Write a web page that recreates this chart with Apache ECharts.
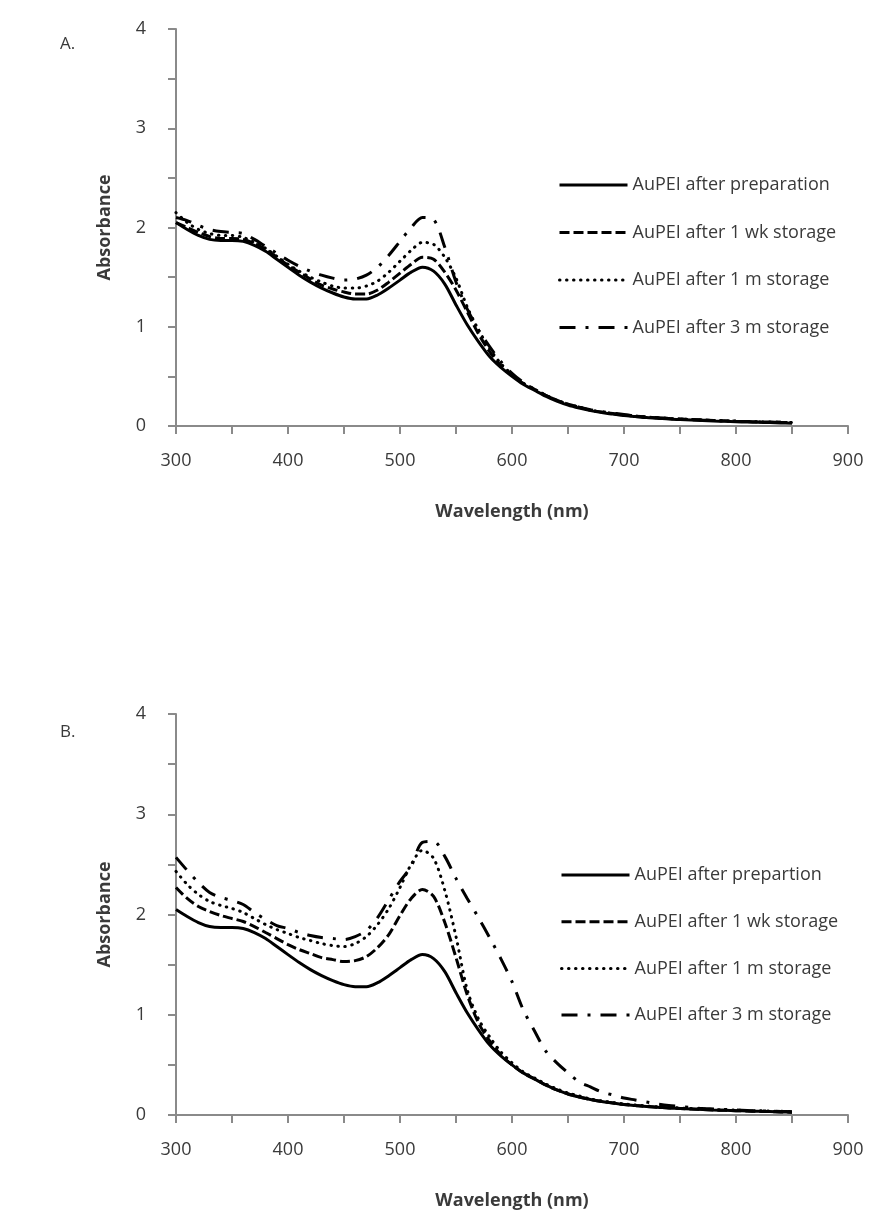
<!DOCTYPE html>
<html>
<head>
<meta charset="utf-8">
<title>AuPEI absorbance</title>
<script src="https://cdn.jsdelivr.net/npm/echarts@6/dist/echarts.min.js"></script>
<style>
  html, body { margin: 0; padding: 0; background: #fff; }
  #main { width: 871px; height: 1215px; }
</style>
</head>
<body>
<div id="main"></div>
<script>
// wavelength grid (nm)
var wavelength = [300, 310, 320, 330, 340, 350, 360, 370, 380, 390,
	400, 410, 420, 430, 440, 450, 460, 470, 480, 490,
	500, 510, 520, 530, 540, 550, 560, 570, 580, 590,
	600, 610, 620, 630, 640, 650, 660, 670, 680, 690,
	700, 710, 720, 730, 740, 750, 760, 770, 780, 790,
	800, 810, 820, 830, 840, 850];

// after preparation (same spectrum in A and B)
var prepared = [2.05, 1.98, 1.92, 1.88, 1.87, 1.87, 1.86, 1.82, 1.76, 1.68,
	1.60, 1.52, 1.45, 1.39, 1.34, 1.30, 1.28, 1.28, 1.32, 1.39,
	1.47, 1.55, 1.60, 1.56, 1.43, 1.22, 1.02, 0.85, 0.70, 0.59,
	0.50, 0.42, 0.36, 0.30, 0.25, 0.21, 0.18, 0.155, 0.135, 0.12,
	0.105, 0.095, 0.085, 0.078, 0.07, 0.065, 0.06, 0.055, 0.05, 0.047,
	0.043, 0.04, 0.037, 0.034, 0.031, 0.028];

// A.
var wk1A = [2.05, 2.00, 1.95, 1.91, 1.89, 1.89, 1.88, 1.84, 1.78, 1.70,
	1.62, 1.55, 1.48, 1.42, 1.38, 1.35, 1.33, 1.33, 1.37, 1.45,
	1.54, 1.63, 1.70, 1.68, 1.55, 1.37, 1.15, 0.93, 0.75, 0.61,
	0.51, 0.43, 0.37, 0.31, 0.26, 0.22, 0.19, 0.16, 0.14, 0.125,
	0.11, 0.10, 0.09, 0.082, 0.075, 0.07, 0.065, 0.06, 0.055, 0.052,
	0.048, 0.045, 0.042, 0.04, 0.037, 0.035];
var m1A = [2.15, 2.05, 1.98, 1.94, 1.92, 1.92, 1.90, 1.85, 1.79, 1.71,
	1.63, 1.56, 1.50, 1.45, 1.41, 1.39, 1.39, 1.41, 1.46, 1.55,
	1.66, 1.77, 1.85, 1.83, 1.70, 1.49, 1.20, 0.97, 0.78, 0.63,
	0.52, 0.43, 0.37, 0.31, 0.26, 0.22, 0.19, 0.16, 0.14, 0.125,
	0.11, 0.10, 0.09, 0.082, 0.075, 0.07, 0.065, 0.06, 0.055, 0.052,
	0.048, 0.045, 0.042, 0.04, 0.037, 0.035];
var m3A = [2.10, 2.07, 2.02, 1.98, 1.96, 1.95, 1.94, 1.88, 1.81, 1.74,
	1.67, 1.61, 1.56, 1.52, 1.49, 1.47, 1.48, 1.52, 1.60, 1.72,
	1.86, 2.00, 2.10, 2.08, 1.80, 1.45, 1.18, 0.97, 0.80, 0.65,
	0.53, 0.44, 0.37, 0.31, 0.26, 0.22, 0.19, 0.165, 0.145, 0.13,
	0.115, 0.10, 0.09, 0.083, 0.076, 0.07, 0.065, 0.06, 0.056, 0.052,
	0.048, 0.045, 0.042, 0.04, 0.037, 0.035];

// B.
var wk1B = [2.27, 2.16, 2.08, 2.03, 1.99, 1.96, 1.93, 1.88, 1.82, 1.76,
	1.70, 1.65, 1.61, 1.57, 1.55, 1.53, 1.54, 1.58, 1.67, 1.80,
	1.99, 2.16, 2.25, 2.18, 1.92, 1.57, 1.20, 0.92, 0.74, 0.60,
	0.50, 0.42, 0.36, 0.30, 0.25, 0.21, 0.18, 0.155, 0.135, 0.12,
	0.105, 0.095, 0.085, 0.078, 0.07, 0.065, 0.06, 0.055, 0.05, 0.047,
	0.043, 0.04, 0.037, 0.034, 0.031, 0.028];
var m1B = [2.43, 2.30, 2.20, 2.13, 2.09, 2.06, 2.02, 1.96, 1.90, 1.85,
	1.81, 1.77, 1.74, 1.71, 1.69, 1.68, 1.71, 1.78, 1.90, 2.06,
	2.27, 2.50, 2.64, 2.56, 2.24, 1.78, 1.25, 0.96, 0.78, 0.63,
	0.52, 0.43, 0.37, 0.31, 0.26, 0.22, 0.19, 0.16, 0.14, 0.125,
	0.11, 0.10, 0.09, 0.082, 0.075, 0.07, 0.065, 0.06, 0.055, 0.052,
	0.048, 0.045, 0.042, 0.04, 0.037, 0.035];
var m3B = [2.57, 2.44, 2.32, 2.22, 2.17, 2.14, 2.10, 2.02, 1.95, 1.89,
	1.86, 1.82, 1.79, 1.77, 1.76, 1.75, 1.78, 1.84, 1.97, 2.15,
	2.33, 2.48, 2.72, 2.73, 2.58, 2.36, 2.16, 1.97, 1.77, 1.56,
	1.33, 1.05, 0.84, 0.64, 0.52, 0.42, 0.33, 0.28, 0.23, 0.20,
	0.17, 0.15, 0.13, 0.11, 0.095, 0.085, 0.075, 0.065, 0.06, 0.055,
	0.05, 0.045, 0.042, 0.038, 0.035, 0.032];

var namesA = ['AuPEI after preparation', 'AuPEI after 1 wk storage', 'AuPEI after 1 m storage', 'AuPEI after 3 m storage'];
var namesB = ['AuPEI after prepartion', 'AuPEI after 1 wk storage', 'AuPEI after 1 m storage', 'AuPEI after 3 m storage'];
var yTicks = [0, 1, 2, 3, 4];
var xTicks = [300, 400, 500, 600, 700, 800, 900];

var font = '"Open Sans", "Noto Sans", sans-serif';
var axisGray = '#8a8a8a';
var textColor = '#3a3a3a';

// dash patterns: solid, dashed, dotted, dash-dot
var dashes = ['solid', [10, 4], [0.5, 6.5], [16, 10, 3, 10]];
var caps = ['butt', 'butt', 'round', 'butt'];

function pairs(values) {
	var out = [];
	for (var i = 0; i < wavelength.length; i++) {
		out.push([wavelength[i], values[i]]);
	}
	return out;
}

function line(name, values, k, idx) {
	return {
		name: name,
		type: 'line',
		xAxisIndex: idx,
		yAxisIndex: idx,
		data: pairs(values),
		symbol: 'none',
		showSymbol: false,
		smooth: 0.3,
		silent: true,
		z: 10 - k,
		itemStyle: { color: '#000' },
		lineStyle: { color: '#000', width: 3, type: dashes[k], cap: caps[k] }
	};
}

function xAxis(idx) {
	return {
		type: 'value', gridIndex: idx, min: 300, max: 900, interval: 50,
		name: 'Wavelength (nm)', nameLocation: 'middle', nameGap: 77,
		nameTextStyle: { fontFamily: font, fontWeight: 'bold', fontSize: 18, color: textColor },
		axisLine: { show: true, lineStyle: { color: axisGray, width: 2 } },
		axisTick: { show: true, length: 8, lineStyle: { color: axisGray, width: 2 } },
		axisLabel: {
			margin: 26, fontFamily: font, fontSize: 18, color: textColor,
			formatter: function(v) { return xTicks.indexOf(v) >= 0 ? String(v) : ''; }
		},
		splitLine: { show: false }
	};
}

function yAxis(idx) {
	return {
		type: 'value', gridIndex: idx, min: 0, max: 4, interval: 0.5,
		name: 'Absorbance', nameLocation: 'middle', nameGap: 62, nameRotate: 90,
		nameTextStyle: { fontFamily: font, fontWeight: 'bold', fontSize: 18, color: textColor },
		axisLine: { show: true, lineStyle: { color: axisGray, width: 2 } },
		axisTick: { show: true, length: 8, lineStyle: { color: axisGray, width: 2 } },
		axisLabel: {
			margin: 30, fontFamily: font, fontSize: 18, color: textColor,
			formatter: function(v) { return yTicks.indexOf(v) >= 0 ? String(v) : ''; }
		},
		splitLine: { show: false }
	};
}

function legend(names, left, top, gap) {
	return {
		data: names, orient: 'vertical', left: left, top: top,
		itemWidth: 68, itemHeight: 14, itemGap: gap, selectedMode: false,
		itemStyle: { opacity: 0 },
		lineStyle: { width: 3, color: '#000' },
		textStyle: { fontFamily: font, fontSize: 18, color: textColor }
	};
}

var chart = echarts.init(document.getElementById('main'), null, { renderer: 'canvas' });

var series = [];
var setA = [prepared, wk1A, m1A, m3A];
var setB = [prepared, wk1B, m1B, m3B];
for (var k = 0; k < 4; k++) {
	series.push(line(namesA[k], setA[k], k, 0));
}
for (var k = 0; k < 4; k++) {
	series.push(line(namesB[k], setB[k], k, 1));
}

chart.setOption({
	animation: false,
	backgroundColor: '#fff',
	grid: [
		{ left: 176, top: 29, width: 672, height: 397, containLabel: false, outerBoundsMode: 'none' },
		{ left: 176, top: 714, width: 672, height: 401, containLabel: false, outerBoundsMode: 'none' }
	],
	xAxis: [xAxis(0), xAxis(1)],
	yAxis: [yAxis(0), yAxis(1)],
	legend: [legend(namesA, 553, 171, 29.5), legend(namesB, 555, 861, 28.7)],
	graphic: [
		{ type: 'text', left: 60, top: 36, style: { text: 'A.', font: '17px ' + font, fill: textColor } },
		{ type: 'text', left: 60, top: 724, style: { text: 'B.', font: '17px ' + font, fill: textColor } }
	],
	series: series
});
</script>
</body>
</html>
